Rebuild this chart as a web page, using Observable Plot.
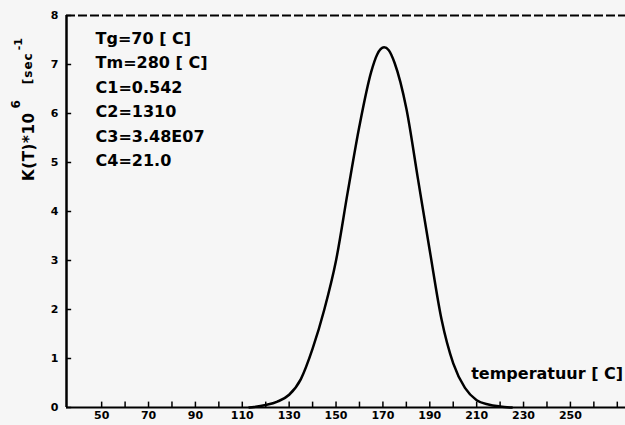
<!DOCTYPE html>
<html>
<head>
<meta charset="utf-8">
<script src="https://cdn.jsdelivr.net/npm/d3@7"></script>
<script src="https://cdn.jsdelivr.net/npm/@observablehq/plot@0.6"></script>
<style>
  html, body { margin: 0; padding: 0; background: #f6f6f6; }
  #chart { width: 625px; height: 425px; overflow: hidden; }
</style>
</head>
<body>
<div id="chart"></div>
<script>
// Curve: temperature (C) and K(T)*10^6 [sec^-1]
const temps   = [113, 115, 120, 125, 130, 135, 140, 145, 150, 155, 160, 165, 167.5, 170.5, 172.5, 175, 180, 185, 190, 195, 200, 205, 210, 215, 220, 225];
const kValues = [0, 0.01, 0.05, 0.12, 0.26, 0.58, 1.2, 2.0, 3.0, 4.4, 5.75, 6.85, 7.2, 7.35, 7.29, 7.03, 6.1, 4.65, 3.2, 1.8, 0.9, 0.4, 0.15, 0.06, 0.02, 0];

const xTickLabels = [50, 70, 90, 110, 130, 150, 170, 190, 210, 230, 250];
const xMinorTicks = [50, 60, 70, 80, 90, 100, 110, 120, 130, 140, 150, 160, 170, 180, 190, 200, 210, 220, 230, 240, 250, 260, 270];
const yTickLabels = [0, 1, 2, 3, 4, 5, 6, 7, 8];
const paramLines  = ["Tg=70 [ C]", "Tm=280 [ C]", "C1=0.542", "C2=1310", "C3=3.48E07", "C4=21.0"];
const xTitle = "temperatuur [ C]";

const data = temps.map((t, i) => ({t, k: kValues[i]}));

const chart = Plot.plot({
  width: 625,
  height: 425,
  marginLeft: 66,
  marginRight: 0,
  marginTop: 15,
  marginBottom: 18,
  style: {background: "#f6f6f6", fontFamily: "DejaVu Sans", fontWeight: "bold", fontSize: "11px", color: "#000"},
  x: {domain: [35, 273.5]},
  y: {domain: [0, 8]},
  marks: [
    Plot.axisX({ticks: xTickLabels, tickSize: 0, tickPadding: 4, label: null}),
    Plot.axisY({ticks: yTickLabels, tickSize: 0, tickPadding: 8, label: null}),
    Plot.ruleX(xMinorTicks, {x: d => d, y1: 0, y2: 0.11, stroke: "#000", strokeWidth: 1.5}),
    Plot.ruleY(yTickLabels, {y: d => d, x1: 35, x2: 37.2, stroke: "#000", strokeWidth: 1.5}),
    Plot.ruleY([0], {stroke: "#000", strokeWidth: 2}),
    Plot.ruleY([8], {stroke: "#000", strokeWidth: 2, strokeDasharray: "9,3"}),
    Plot.ruleX([35], {stroke: "#000", strokeWidth: 2.5}),
    Plot.line(data, {x: "t", y: "k", stroke: "#000", strokeWidth: 2.5, curve: "monotone-x"}),
    Plot.text(paramLines, {x: 47.4, y: (d, i) => 7.53 - i * 0.5, text: d => d, textAnchor: "start", fontSize: 16, fontWeight: "bold", fill: "#000"}),
    Plot.text([xTitle], {x: 272.5, y: 0.68, text: d => d, textAnchor: "end", fontSize: 16, fontWeight: "bold", fill: "#000"})
  ]
});
document.getElementById("chart").appendChild(chart);

// Rotated y-axis title with superscripts
const svg = d3.select(chart);
const yt = svg.append("text")
  .attr("transform", "translate(34,181) rotate(-90)")
  .attr("text-anchor", "start")
  .attr("font-family", "DejaVu Sans")
  .attr("font-weight", "bold")
  .attr("fill", "#000");
yt.append("tspan").attr("font-size", 15).attr("letter-spacing", 0.6).text("K(T)*10");
yt.append("tspan").attr("font-size", 12).attr("dy", -14).attr("dx", 4).text("6");
yt.append("tspan").attr("font-size", 12).attr("letter-spacing", 1).attr("dy", 12).attr("dx", 16).text("[sec");
yt.append("tspan").attr("font-size", 11).attr("dy", -10).attr("dx", 2).text("-1");
</script>
</body>
</html>
